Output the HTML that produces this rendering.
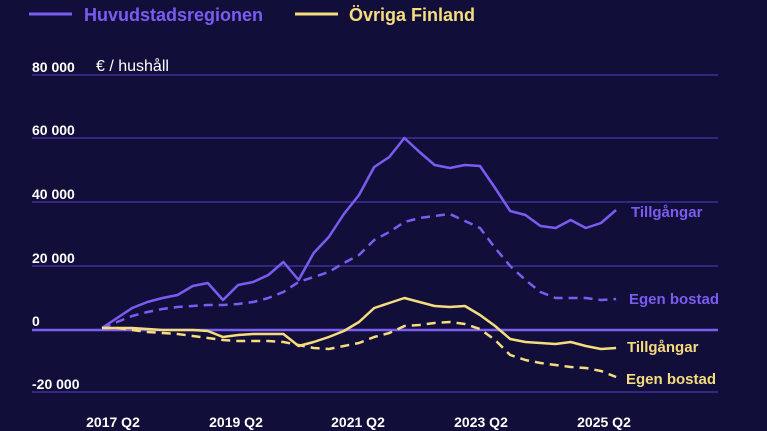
<!DOCTYPE html>
<html><head><meta charset="utf-8"><style>
body{margin:0;background:#120e3a;}
svg{display:block;font-family:"Liberation Sans",sans-serif;}
</style></head><body>
<svg width="767" height="431" xmlns="http://www.w3.org/2000/svg">
<rect width="767" height="431" fill="#120e3a"/>
<line x1="29" y1="14" x2="72" y2="14" stroke="#7b5cf0" stroke-width="3"/>
<text x="84" y="21" fill="#7b5cf0" font-size="18" font-weight="bold">Huvudstadsregionen</text>
<line x1="295" y1="14" x2="338" y2="14" stroke="#f5dc7f" stroke-width="3"/>
<text x="349" y="21" fill="#f5dc7f" font-size="18" font-weight="bold">Övriga Finland</text>
<g stroke="#3d309a" stroke-width="1.5">
<line x1="32" y1="75" x2="718" y2="75"/><line x1="32" y1="138" x2="718" y2="138"/>
<line x1="32" y1="202" x2="718" y2="202"/><line x1="32" y1="266" x2="718" y2="266"/>
<line x1="32" y1="392" x2="718" y2="392"/></g>
<line x1="32" y1="330" x2="718" y2="330" stroke="#7a5ff0" stroke-width="2.5"/>
<g fill="#fff" font-size="14" font-weight="bold">
<text x="32" y="72">80 000</text><text x="32" y="135">60 000</text><text x="32" y="199">40 000</text>
<text x="32" y="263">20 000</text><text x="32" y="326">0</text><text x="32" y="389">-20 000</text>
<text x="113" y="427" text-anchor="middle">2017 Q2</text><text x="236" y="427" text-anchor="middle">2019 Q2</text>
<text x="358" y="427" text-anchor="middle">2021 Q2</text><text x="481" y="427" text-anchor="middle">2023 Q2</text>
<text x="604" y="427" text-anchor="middle">2025 Q2</text></g>
<text x="96" y="71" fill="#fff" font-size="16">€ / hushåll</text>
<g fill="none" stroke-width="2.5" stroke-linejoin="round">
<polyline id="ps" stroke="#7b5cf0" points=""/>
<polyline id="pd" stroke="#7b5cf0" stroke-dasharray="9,6" points=""/>
<polyline id="ys" stroke="#f5dc7f" points=""/>
<polyline id="yd" stroke="#f5dc7f" stroke-dasharray="9,6" points=""/>
</g>
<g font-size="15" font-weight="bold">
<text x="631" y="217" fill="#7b5cf0">Tillgångar</text>
<text x="629" y="304" fill="#7b5cf0">Egen bostad</text>
<text x="627" y="352" fill="#f5dc7f">Tillgångar</text>
<text x="626" y="384" fill="#f5dc7f">Egen bostad</text>
</g>
</svg>
<script>
const d={
ps:[328,318,308,302,298,295,286,283,300,285,282,275,262,280,253,237,214,195,167,157,138,152,165,168,165,166,188,211,215,226,228,220,228,223,210],
pd:[328,322,316,312,309,307,306,305,305,304,302,298,292,282,277,272,263,255,240,232,222,218,216,214,221,228,248,266,280,292,298,298,298,300,299],
ys:[328,328,328,329,330,330,330,331,337,335,334,334,334,346,342,337,331,322,308,303,298,302,306,307,306,315,326,339,342,343,344,342,346,349,348],
yd:[328,328,330,332,333,334,336,338,340,341,341,341,342,345,348,349,346,343,337,333,326,325,323,322,324,329,340,355,360,363,365,367,368,371,377]};
for(const k in d){document.getElementById(k).setAttribute('points',d[k].map((y,i)=>(102+15.12*i).toFixed(1)+','+y).join(' '));}
</script>
</body></html>
